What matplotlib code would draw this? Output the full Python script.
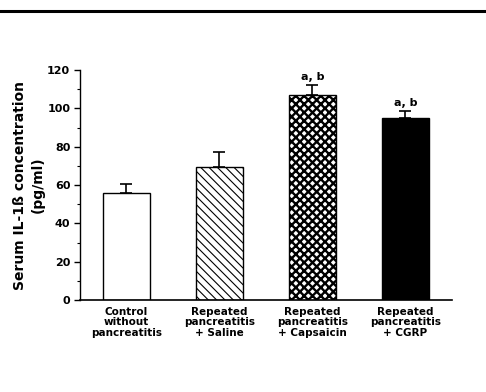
import matplotlib
matplotlib.use("Agg")
import numpy as np
from matplotlib import pyplot as plt
from matplotlib.lines import Line2D
from matplotlib.ticker import MultipleLocator

# Data
groups = ["Control\nwithout\npancreatitis",
          "Repeated\npancreatitis\n+ Saline",
          "Repeated\npancreatitis\n+ Capsaicin",
          "Repeated\npancreatitis\n+ CGRP"]
means = [55.8, 69.5, 107.0, 95.0]
sems = [4.7, 7.7, 5.0, 3.6]
marks = ["", "", "a, b", "a, b"]

plt.rcParams["hatch.linewidth"] = 0.8

fig = plt.figure(figsize=(4.86, 3.92), dpi=100)
ax = fig.add_axes([0.1646, 0.2347, 0.7654, 0.5867])

x = np.arange(len(groups))
faces = ["white", "white", "white", "black"]
hatches = [None, "\\\\\\\\", "xxxx", None]
for xi, m, fc, h in zip(x, means, faces, hatches):
    bars = ax.bar(xi, m, width=0.5, color=fc, edgecolor="black", hatch=h,
                  linewidth=1.0, zorder=2)
    if h == "xxxx":
        # dense checker look for the capsaicin bar
        try:
            bars[0].set_hatch_linewidth(1.7)
        except AttributeError:
            pass

ax.errorbar(x, means, yerr=[np.zeros(len(sems)), sems], fmt="none",
            ecolor="black", elinewidth=1.2, capsize=4, capthick=1.2, zorder=3)

for xi, m, s, t in zip(x, means, sems, marks):
    if t:
        ax.text(xi, m + s + 1.5, t, ha="center", va="bottom",
                fontsize=8, fontweight="bold")

ax.set_xlim(-0.5, 3.5)
ax.set_ylim(0, 120)
ax.yaxis.set_major_locator(MultipleLocator(20))
ax.yaxis.set_minor_locator(MultipleLocator(10))
ax.set_xticks(x)
ax.set_xticklabels(groups, fontsize=7.5, fontweight="bold", linespacing=1.05)
ax.tick_params(axis="x", length=0, pad=5)
ax.tick_params(axis="y", which="major", length=4, labelsize=8, width=1, pad=3)
ax.tick_params(axis="y", which="minor", length=2, width=0.8)
for lbl in ax.get_yticklabels():
    lbl.set_fontweight("bold")

for side in ["top", "right"]:
    ax.spines[side].set_visible(False)
ax.spines["left"].set_linewidth(1.0)
ax.spines["bottom"].set_linewidth(1.2)

ax.set_ylabel("Serum IL-1\u00df concentration\n(pg/ml)", fontsize=10,
              fontweight="bold", linespacing=1.3)
ax.yaxis.set_label_coords(-0.095, 0.5)

# Heavy rule across the top of the page
fig.add_artist(Line2D([0, 1], [0.973, 0.973], color="black", linewidth=2.2,
                      transform=fig.transFigure))

fig.savefig("out.png", dpi=100)
